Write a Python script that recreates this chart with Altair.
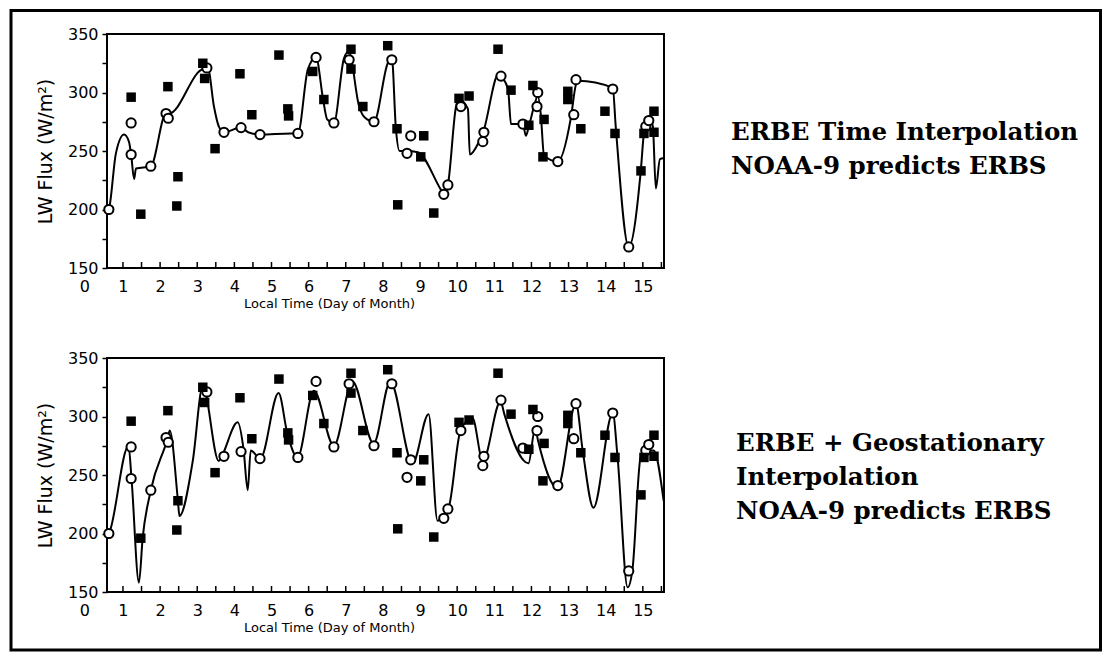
import altair as alt
import pandas as pd

# ERBS observations (filled squares) - same in both panels
sq_day = [1.22, 1.48, 2.21, 2.45, 2.48, 3.15, 3.20, 3.48, 4.15, 4.47, 5.20, 5.44, 5.46,
          6.11, 6.41, 7.14, 7.14, 7.46, 8.13, 8.38, 8.40, 9.02, 9.10, 9.37, 10.05, 10.32,
          11.10, 11.45, 11.93, 12.04, 12.31, 12.34, 12.98, 12.98, 13.33, 13.98, 14.25,
          14.95, 15.03, 15.30, 15.30]
sq_flux = [296, 196, 305, 203, 228, 325, 312, 252, 316, 281, 332, 286, 280,
           318, 294, 337, 320, 288, 340, 269, 204, 245, 263, 197, 295, 297,
           337, 302, 272, 306, 245, 277, 301, 294, 269, 284, 265,
           233, 265, 284, 266]

# NOAA-9 observations (open circles) - same in both panels
ci_day = [0.62, 1.22, 1.22, 1.75, 2.16, 2.22, 3.26, 3.72, 4.18, 4.69, 5.71, 6.20, 6.68,
          7.09, 7.76, 8.24, 8.65, 8.75, 9.64, 9.75, 10.10, 10.69, 10.72, 11.18, 11.77,
          12.15, 12.17, 12.71, 13.14, 13.20, 14.19, 14.62, 15.08, 15.16]
ci_flux = [200, 274, 247, 237, 282, 278, 321, 266, 270, 264, 265, 330, 274,
           328, 275, 328, 248, 263, 213, 221, 288, 258, 266, 314, 273,
           288, 300, 241, 281, 311, 303, 168, 271, 276]

# ERBE time interpolation curve (top panel)
t_day = [0.57, 0.62, 0.81, 1.03, 1.16, 1.22, 1.30, 1.35, 1.75, 2.16, 2.24, 3.18, 3.29,
         3.45, 3.58, 3.72, 4.18, 4.37, 4.69, 5.52, 5.71, 5.98, 6.20, 6.39, 6.50, 6.68,
         6.95, 7.08, 7.36, 7.50, 7.76, 8.13, 8.24, 8.35, 8.45, 8.65, 8.94, 9.56, 9.64,
         9.75, 9.97, 10.05, 10.29, 10.34, 10.59, 10.69, 11.12, 11.18, 11.37, 11.45,
         11.77, 11.85, 11.93, 12.07, 12.17, 12.25, 12.34, 12.71, 13.06, 13.20, 13.25,
         14.19, 14.27, 14.62, 14.95, 15.03, 15.14, 15.20, 15.27, 15.35, 15.46, 15.57]
t_flux = [198, 200, 248, 264, 258, 247, 226, 235, 237, 282, 282, 320, 320,
          288, 271, 266, 270, 266, 264, 265, 265, 320, 330, 294, 277, 274,
          329, 335, 288, 279, 275, 325, 330, 269, 250, 250, 249, 217, 213,
          221, 288, 294, 286, 247, 258, 265, 316, 314, 303, 273,
          273, 263, 271, 288, 297, 282, 246, 241, 278, 307, 310,
          304, 271, 168, 235, 265, 274, 277, 271, 218, 243, 244]

# ERBE + geostationary interpolation curve (bottom panel)
g_day = [0.57, 0.62, 1.15, 1.23, 1.43, 1.53, 1.75, 2.20, 2.26, 2.48, 2.52, 2.88, 3.15,
         3.58, 3.66, 4.09, 4.25, 4.36, 4.44, 4.70, 5.19, 5.43, 5.70, 6.14, 6.68, 7.18,
         7.75, 8.20, 8.80, 9.23, 9.47, 9.77, 10.09, 10.41, 10.69, 11.17, 11.27, 11.92,
         12.10, 12.18, 12.70, 13.20, 13.38, 13.67, 14.19, 14.32, 14.59, 14.72, 14.94,
         15.13, 15.29, 15.56]
g_flux = [198, 200, 275, 247, 158, 196, 237, 281, 288, 228, 215, 262, 326,
          262, 266, 295, 271, 237, 271, 264, 320, 285, 265, 322, 275, 330,
          277, 330, 260, 302, 211, 222, 288, 299, 262, 313, 302, 260,
          290, 279, 239, 311, 271, 222, 303, 265, 154, 169, 265,
          271, 271, 228]

x_labels = [1, 2, 3, 4, 5, 6, 7, 8, 9, 10, 11, 12, 13, 14, 15]
x_ticks = [1, 1.5, 2, 2.5, 3, 3.5, 4, 4.5, 5, 5.5, 6, 6.5, 7, 7.5, 8, 8.5, 9, 9.5,
           10, 10.5, 11, 11.5, 12, 12.5, 13, 13.5, 14, 14.5, 15, 15.5]
y_ticks = [150, 175, 200, 225, 250, 275, 300, 325, 350]
zero_label = [0]

top_text = ["ERBE Time Interpolation", "NOAA-9  predicts ERBS"]
bottom_text = ["ERBE + Geostationary", "Interpolation", "NOAA-9  predicts ERBS"]

W, H = 557, 234
FONT = "DejaVu Sans"
SERIF = "DejaVu Serif"
LABEL_PAD = 10


def panel(line_day, line_flux, text_lines, text_x, text_y, with_frame):
    xs = alt.Scale(domain=[0.57, 15.57], nice=False, zero=False)
    ys = alt.Scale(domain=[150, 350], nice=False, zero=False)
    line_df = pd.DataFrame({"day": line_day, "flux": line_flux})
    sq_df = pd.DataFrame({"day": sq_day, "flux": sq_flux})
    ci_df = pd.DataFrame({"day": ci_day, "flux": ci_flux})
    tick_df = pd.DataFrame({"t": x_ticks})

    line = alt.Chart(line_df).mark_line(
        color="black", strokeWidth=2, interpolate="monotone"
    ).encode(
        x=alt.X("day:Q", scale=xs, axis=alt.Axis(
            orient="bottom", values=x_labels, ticks=False, domain=False, grid=False,
            labelFont=FONT, labelFontSize=16, labelColor="black", labelPadding=LABEL_PAD,
            title="Local Time (Day of Month)", titleFont=FONT, titleFontSize=13,
            titleFontWeight="normal", titleColor="black", titlePadding=3,
            titleX=222, titleAlign="center")),
        y=alt.Y("flux:Q", scale=ys, axis=alt.Axis(
            orient="left", values=y_ticks, ticks=True, tickSize=5, tickWidth=1.5,
            tickColor="black", domain=False, grid=False,
            labelExpr="datum.value % 50 == 0 ? datum.label : ''",
            labelFont=FONT, labelFontSize=16, labelColor="black", labelPadding=4,
            title="LW Flux (W/m²)", titleFont=FONT, titleFontSize=19,
            titleFontWeight="normal", titleColor="black", titlePadding=12)),
    )

    ticks = alt.Chart(tick_df).mark_rule(color="black", strokeWidth=1.5).encode(
        x=alt.X("t:Q", scale=xs, axis=None),
        y=alt.value(H),
        y2=alt.value(H - 6),
    )

    circles = alt.Chart(ci_df).mark_point(
        shape="circle", filled=True, fill="white", stroke="black", strokeWidth=2,
        size=85, opacity=1
    ).encode(
        x=alt.X("day:Q", scale=xs, axis=None),
        y=alt.Y("flux:Q", scale=ys, axis=None),
    )

    squares = alt.Chart(sq_df).mark_square(
        color="black", size=90, opacity=1
    ).encode(
        x=alt.X("day:Q", scale=xs, axis=None),
        y=alt.Y("flux:Q", scale=ys, axis=None),
    )

    zero = alt.Chart(pd.DataFrame({"v": zero_label})).mark_text(
        font=FONT, fontSize=16, color="black", baseline="top", align="center", dx=-1
    ).encode(
        x=alt.X("v:Q", scale=xs, axis=None),
        y=alt.value(H + LABEL_PAD + 1),
        text=alt.Text("v:Q"),
    )

    label = alt.Chart(alt.Data(values=[{"k": 1}])).mark_text(
        font=SERIF, fontSize=24.5, fontWeight="bold", color="black",
        align="left", baseline="middle", lineHeight=34
    ).encode(
        x=alt.value(text_x), y=alt.value(text_y), text=alt.value(text_lines)
    )

    layers = [line, ticks, circles, squares, zero, label]
    if with_frame:
        frame = alt.Chart(alt.Data(values=[{"k": 1}])).mark_rect(
            fillOpacity=0, stroke="black", strokeWidth=3
        ).encode(
            x=alt.value(-96), x2=alt.value(993.5),
            y=alt.value(-23.5), y2=alt.value(616),
        )
        layers = [frame] + layers

    return alt.layer(*layers).resolve_axis(
        x="independent", y="independent"
    ).properties(width=W, height=H)


top = panel(t_day, t_flux, top_text, 624, 99, True)
bottom = panel(g_day, g_flux, bottom_text, 629, 86, False)

chart = alt.vconcat(top, bottom, spacing=90, bounds="flush").properties(
    padding=0, background="white"
).configure_view(stroke="black", strokeWidth=2)

chart.save("out.html", embed_options={"renderer": "svg", "actions": False})
